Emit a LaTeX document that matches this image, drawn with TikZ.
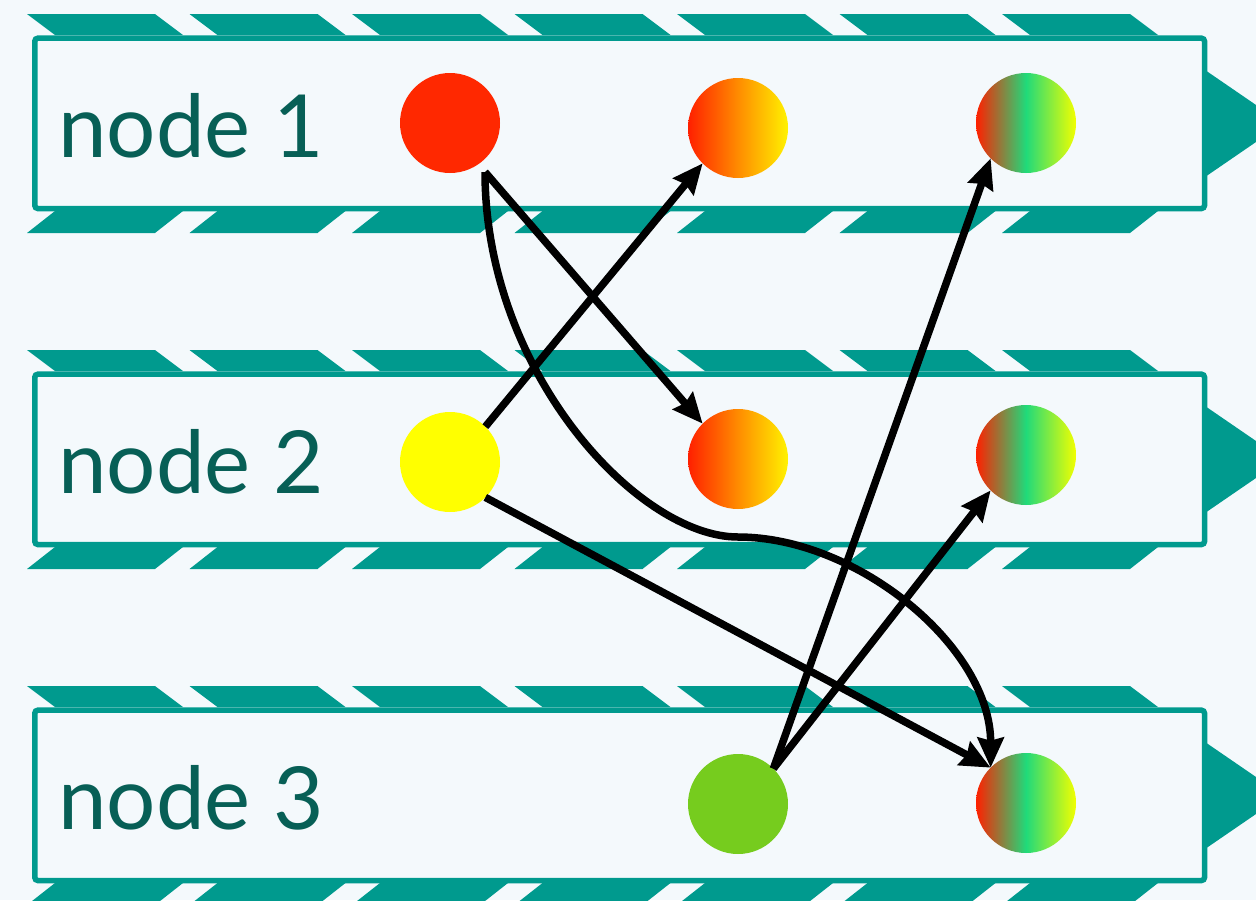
\documentclass[tikz,border=0pt]{standalone}
\usepackage{fontspec}
\setmainfont{Lato}
\usetikzlibrary{arrows.meta}
\definecolor{bg}{HTML}{F4F9FC}
\definecolor{teal1}{HTML}{009A8E}
\definecolor{txt}{HTML}{075F56}
\definecolor{cred}{HTML}{FF2800}
\definecolor{cyel}{HTML}{FFFF00}
\definecolor{cgreen}{HTML}{76CC1E}
\definecolor{gred}{HTML}{FF2000}
\definecolor{gorange}{HTML}{FF8C00}
\definecolor{gyellow}{HTML}{FFF200}
\definecolor{ggreen}{HTML}{20DA7A}
\definecolor{gyel2}{HTML}{F2FF00}
\begin{document}
\begin{tikzpicture}[x=1pt,y=-1pt,
  dot/.style={circle, minimum size=100pt, inner sep=0pt, outer sep=0pt},
  warm/.style={dot, left color=gred, right color=gyellow, middle color=gorange},
  tri/.style={dot, left color=gred, right color=gyel2, middle color=ggreen},
  lane/.style={draw=teal1, line width=5.5pt, fill=bg, rounded corners=3pt},
  band/.style={fill=teal1},
  lbl/.style={anchor=base west, text=txt, font=\fontsize{87}{90}\selectfont, inner sep=0pt},
  link/.style={line width=7.5pt, -{Stealth[length=30pt,width=26pt,inset=3pt]}}]

\fill[bg] (0,0) rectangle (1256,900);
\clip (0,0) rectangle (1256,900);

\foreach \r in {0,1,2} {
  \pgfmathsetmacro{\o}{336*\r}
  \foreach \k in {0,...,6} {
    \pgfmathsetmacro{\s}{162.5*\k}
    \fill[band] ({27+\s},{14+\o}) -- ({155+\s},{14+\o}) -- ({183+\s},{35+\o}) -- ({55+\s},{35+\o}) -- cycle;
    \fill[band] ({55+\s},{211+\o}) -- ({183+\s},{211+\o}) -- ({155+\s},{233+\o}) -- ({27+\s},{233+\o}) -- cycle;
  }
  \fill[band] (1205,{70+\o}) -- (1283,{123.5+\o}) -- (1205,{177+\o}) -- cycle;
  \draw[lane] (34.8,{38.2+\o}) rectangle (1204.5,{208.5+\o});
}

\node[lbl] (t1) at (58,157) {node 1};
\node[lbl] (t2) at (58,493) {node 2};
\node[lbl] (t3) at (58,829) {node 3};

\node[dot, fill=cred] (a1) at (450,123) {};
\node[warm] (b1) at (738,128) {};
\node[tri] (c1) at (1026,123) {};
\node[dot, fill=cyel] (a2) at (450,462) {};
\node[warm] (b2) at (738,459) {};
\node[tri] (c2) at (1026,455) {};
\node[dot, fill=cgreen] (b3) at (738,804) {};
\node[tri] (c3) at (1026,803) {};

\coordinate (a1out) at (485,172);
\coordinate (mid) at (738,537);

\draw[link] (a1out) -- (b2.north west);
\draw[link] (a2.north east) -- (b1.south west);
\draw[link] (a1out) .. controls +(0,200) and +(-100,0) .. (mid) .. controls +(120,0) and +(0,-120) .. (c3.north west);
\draw[link] (a2.south east) -- (c3.north west);
\draw[link] (b3.north east) -- (c1.south west);
\draw[link] (b3.north east) -- (c2.south west);
\end{tikzpicture}
\end{document}
